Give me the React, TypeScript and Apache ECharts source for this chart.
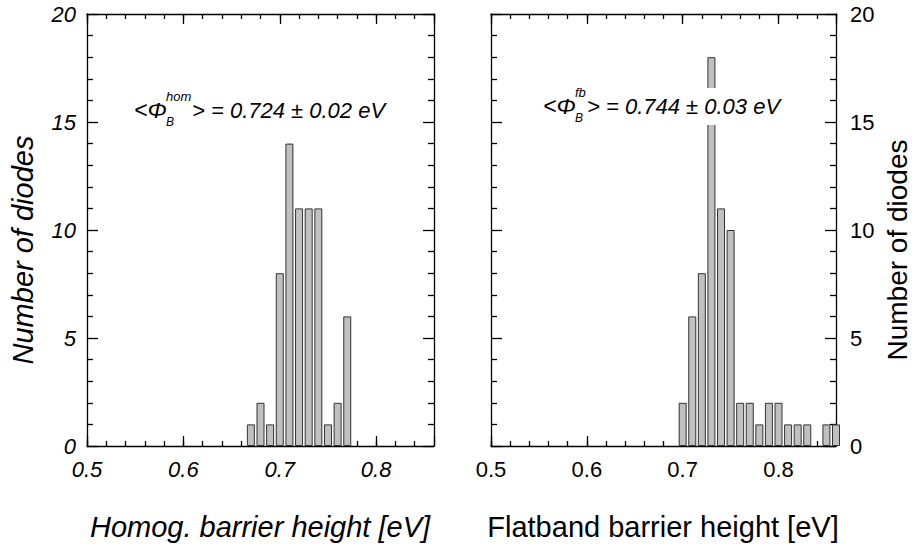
import React, { useEffect, useRef } from 'react';
import * as echarts from 'echarts';

// Histogram bins (bin centres, eV) and counts
const homBins = [0.67, 0.68, 0.69, 0.70, 0.71, 0.72, 0.73, 0.74, 0.75, 0.76, 0.77];
const homCounts = [1, 2, 1, 8, 14, 11, 11, 11, 1, 2, 6];
const fbBins = [0.70, 0.71, 0.72, 0.73, 0.74, 0.75, 0.76, 0.77, 0.78, 0.79, 0.80, 0.81, 0.82, 0.83, 0.85, 0.86];
const fbCounts = [2, 6, 8, 18, 11, 10, 2, 2, 1, 2, 2, 1, 1, 1, 1, 1];

const X_MIN = 0.5;
const X_MAX = 0.86;
const X_MAJOR = 0.1;
const X_MINOR = 0.02;
const Y_MIN = 0;
const Y_MAX = 20;
const Y_MAJOR = 5;

const leftXTitle = 'Homog. barrier height [eV]';
const rightXTitle = 'Flatband barrier height [eV]';
const yTitle = 'Number of diodes';
const homMean = '> = 0.724 ± 0.02 eV';
const fbMean = '> = 0.744 ± 0.03 eV';

const FONT = '"Liberation Sans", Arial, Helvetica, sans-serif';

export default function App() {
  const ref = useRef<HTMLDivElement>(null);

  useEffect(() => {
    if (!ref.current) return;
    document.body.style.margin = '0';
    const chart = echarts.init(ref.current, undefined, { renderer: 'svg' });

    const lineStyle = { color: '#000', width: 1.3 };

    const makeX = (g: number, pos: 'bottom' | 'top', major: boolean, italic: boolean) => ({
      type: 'value',
      gridIndex: g,
      position: pos,
      min: X_MIN,
      max: X_MAX,
      interval: major ? X_MAJOR : X_MINOR,
      axisLine: { show: !major, onZero: false, lineStyle },
      axisTick: { show: true, inside: true, length: major ? 10 : 5, lineStyle },
      splitLine: { show: false },
      axisLabel: {
        show: pos === 'bottom' && !major,
        showMaxLabel: false,
        margin: 12,
        color: '#000',
        fontSize: 22,
        fontFamily: FONT,
        fontStyle: italic ? 'italic' : 'normal',
        formatter: (v: number) => {
          const r = Math.round(v * 100);
          return r % 10 === 0 ? v.toFixed(1) : '';
        },
      },
    });

    const makeY = (g: number, pos: 'left' | 'right', labels: boolean, italic: boolean) => ({
      type: 'value',
      gridIndex: g,
      position: pos,
      min: Y_MIN,
      max: Y_MAX,
      interval: Y_MAJOR,
      axisLine: { show: true, onZero: false, lineStyle },
      axisTick: { show: true, inside: true, length: 11, lineStyle },
      minorTick: { show: true, splitNumber: 5, length: 6, lineStyle },
      splitLine: { show: false },
      minorSplitLine: { show: false },
      axisLabel: {
        show: labels,
        margin: pos === 'left' ? 11 : 14,
        color: '#000',
        fontSize: 22,
        fontFamily: FONT,
        fontStyle: italic ? 'italic' : 'normal',
      },
    });

    const barSeries = (g: number, bins: number[], counts: number[]) => ({
      type: 'bar',
      xAxisIndex: g * 4,
      yAxisIndex: g * 2,
      data: bins.map((b, i) => [b, counts[i]]),
      barWidth: 8,
      clip: true,
      itemStyle: { color: '#c0c0c0', borderColor: '#333', borderWidth: 1 },
      emphasis: { disabled: true },
      silent: true,
    });

    // "<Φ" + stacked superscript/subscript + remainder of the expression
    const annotation = (x: number, y: number, sup: string, scriptX: number, rest: string, restX: number) => ({
      type: 'group',
      x,
      y,
      z: 100,
      children: [
        { type: 'rect', z: 100, shape: { x: -4, y: 2, width: 256, height: 37 }, style: { fill: '#fff' } },
        { type: 'text', z: 101, x: 0, y: 20, style: { text: '<Φ', fill: '#000', font: `italic 23px ${FONT}`, verticalAlign: 'middle' } },
        {
          type: 'text',
          z: 101,
          x: scriptX,
          y: 19,
          style: {
            text: `{sup|${sup}}\n{sub|B}`,
            fill: '#000',
            verticalAlign: 'middle',
            align: 'left',
            rich: {
              sup: { font: `italic 13px ${FONT}`, fill: '#000', lineHeight: 25 },
              sub: { font: `italic 12px ${FONT}`, fill: '#000', lineHeight: 25 },
            },
          },
        },
        { type: 'text', z: 101, x: restX, y: 20, style: { text: rest, fill: '#000', font: `italic 22px ${FONT}`, verticalAlign: 'middle' } },
      ],
    });

    const title = (text: string, x: number, y: number, italic: boolean, rotate: boolean, size: number) => ({
      type: 'text',
      x,
      y,
      rotation: rotate ? Math.PI / 2 : 0,
      z: 100,
      style: {
        text,
        fill: '#000',
        font: `${italic ? 'italic ' : ''}${size}px ${FONT}`,
        align: 'center',
        verticalAlign: 'middle',
      },
    });

    chart.setOption({
      animation: false,
      backgroundColor: '#fff',
      grid: [
        { left: 87, top: 14, width: 347, height: 432 },
        { left: 491, top: 14, width: 345, height: 432 },
      ],
      xAxis: [
        makeX(0, 'bottom', false, true),
        makeX(0, 'bottom', true, true),
        makeX(0, 'top', false, true),
        makeX(0, 'top', true, true),
        makeX(1, 'bottom', false, false),
        makeX(1, 'bottom', true, false),
        makeX(1, 'top', false, false),
        makeX(1, 'top', true, false),
      ],
      yAxis: [
        makeY(0, 'left', true, true),
        makeY(0, 'right', false, true),
        makeY(1, 'left', false, false),
        makeY(1, 'right', true, false),
      ],
      series: [barSeries(0, homBins, homCounts), barSeries(1, fbBins, fbCounts)],
      graphic: [
        annotation(134, 90, 'hom', 32, homMean, 58),
        annotation(543, 86, 'fb', 32, fbMean, 44),
        title(leftXTitle, 260, 527, true, false, 29),
        title(rightXTitle, 663, 527, false, false, 29),
        title(yTitle, 23, 250, true, true, 29),
        title(yTitle, 897, 250, false, true, 28),
      ],
    });

    return () => chart.dispose();
  }, []);

  return <div ref={ref} style={{ width: 914, height: 558 }} />;
}
